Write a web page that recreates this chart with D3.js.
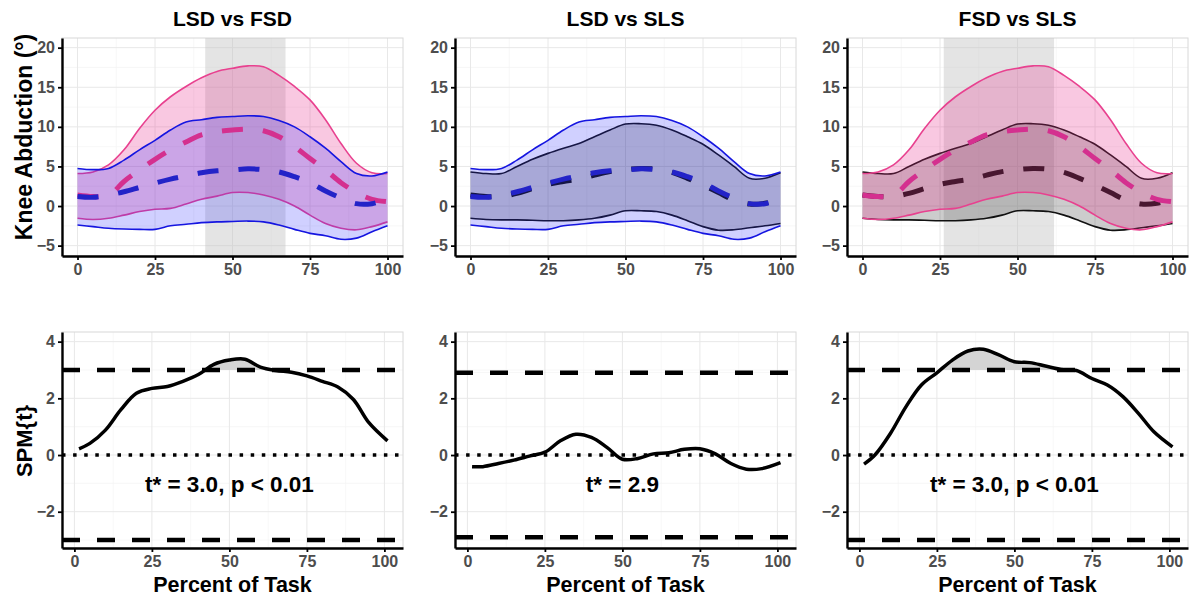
<!DOCTYPE html>
<html>
<head>
<meta charset="utf-8">
<script src="https://cdn.jsdelivr.net/npm/d3@7"></script>
<style>
  body { margin: 0; background: #fff; }
  text { font-family: "Liberation Sans", Arial, sans-serif; font-weight: bold; }
</style>
</head>
<body>
<script>
// ---- data ----
const pct = [0, 5, 10, 15, 20, 25, 30, 35, 40, 45, 50, 55, 60, 65, 70, 75, 80, 85, 90, 95, 100];

const lsdUpper = [4.75, 4.6, 4.75, 5.8, 7.1, 8.3, 9.6, 10.6, 10.9, 11.2, 11.3, 11.4, 11.3, 10.8, 10.0, 8.75, 7.3, 5.6, 4.1, 3.8, 4.3];
const lsdMean  = [1.2, 1.1, 1.4, 1.8, 2.35, 2.9, 3.4, 3.8, 4.2, 4.45, 4.55, 4.7, 4.6, 4.3, 3.7, 2.95, 1.9, 1.0, 0.3, 0.3, 0.85];
const lsdLower = [-2.4, -2.6, -2.8, -2.9, -2.95, -2.95, -2.5, -2.3, -2.1, -2.0, -1.95, -1.9, -2.0, -2.4, -2.95, -3.45, -3.75, -4.2, -4.05, -3.25, -2.5];

const fsdUpper = [4.1, 4.3, 5.2, 7.1, 9.8, 12.1, 13.8, 15.1, 16.2, 17.0, 17.4, 17.7, 17.6, 16.5, 15.1, 13.4, 10.9, 7.9, 5.4, 4.2, 4.1];
const fsdMean  = [1.4, 1.2, 1.3, 3.1, 4.55, 5.9, 7.1, 8.1, 9.0, 9.4, 9.6, 9.7, 9.5, 8.75, 7.5, 6.0, 4.55, 2.95, 1.7, 0.85, 0.55];
const fsdLower = [-1.55, -1.7, -1.55, -1.15, -0.7, -0.4, -0.3, 0.25, 0.85, 1.25, 1.7, 1.7, 1.4, 0.85, 0, -1.15, -2.2, -2.8, -3.0, -2.6, -2.0];

const slsUpper = [4.3, 4.1, 4.1, 5.0, 5.9, 6.65, 7.3, 7.9, 8.75, 9.6, 10.35, 10.4, 10.2, 9.6, 8.75, 7.8, 6.45, 5.0, 3.5, 3.5, 4.2];
const slsMean  = [1.4, 1.2, 1.2, 1.6, 2.2, 2.75, 3.1, 3.4, 3.9, 4.35, 4.6, 4.75, 4.65, 4.25, 3.5, 2.65, 1.7, 0.75, 0.25, 0.35, 0.85];
const slsLower = [-1.55, -1.7, -1.75, -1.75, -1.8, -1.85, -1.85, -1.75, -1.55, -1.15, -0.6, -0.6, -0.7, -1.15, -1.85, -2.6, -3.05, -3.0, -2.75, -2.5, -2.2];

const spmPct = [1.5, 5, 10, 15, 20, 25, 30, 35, 40, 45, 50, 55, 60, 65, 70, 75, 80, 85, 90, 95, 101];
const spmLsdFsd = [0.22, 0.41, 0.88, 1.6, 2.18, 2.35, 2.42, 2.6, 2.84, 3.2, 3.35, 3.38, 3.1, 2.98, 2.92, 2.79, 2.6, 2.4, 1.96, 1.14, 0.5];
const spmLsdSls = [-0.41, -0.41, -0.3, -0.18, -0.04, 0.1, 0.5, 0.73, 0.62, 0.27, -0.15, -0.12, 0.04, 0.08, 0.2, 0.22, 0.04, -0.3, -0.5, -0.48, -0.27];
const spmFsdSls = [-0.32, 0, 0.76, 1.7, 2.47, 2.9, 3.35, 3.67, 3.73, 3.53, 3.29, 3.26, 3.14, 3.02, 2.98, 2.7, 2.47, 2.06, 1.47, 0.82, 0.29];

const titles = ['LSD vs FSD', 'LSD vs SLS', 'FSD vs SLS'];
const thresholds = [3.0, 2.9, 3.0];
const labels = ['t* = 3.0, p < 0.01', 't* = 2.9', 't* = 3.0, p < 0.01'];
const sigRegions = [[41.2, 67.1], null, [26.2, 61.8]];

const xTicks = [0, 25, 50, 75, 100];
const topYTicks = [-5, 0, 5, 10, 15, 20];
const botYTicks = [-2, 0, 2, 4];

// ---- groups and styling ----
const groups = {
  LSD: { upper: lsdUpper, mean: lsdMean, lower: lsdLower, line: '#1515e0', dash: '#2323c8', fill: 'rgba(40,40,255,0.22)' },
  FSD: { upper: fsdUpper, mean: fsdMean, lower: fsdLower, line: '#e8418f', dash: '#d4308f', fill: 'rgba(231,41,138,0.26)' },
  SLS: { upper: slsUpper, mean: slsMean, lower: slsLower, line: '#111', dash: '#111', fill: 'rgba(0,0,0,0.2)' }
};
const panelGroups = [['FSD', 'LSD'], ['SLS', 'LSD'], ['SLS', 'FSD']];
const meansOnTop = [true, false, false];
const spmSeries = [spmLsdFsd, spmLsdSls, spmFsdSls];

const width = 1201, height = 603;
const panelLeft = [62, 455, 847];
const panelW = 341;

const svg = d3.select('body').append('svg')
  .attr('width', width)
  .attr('height', height);

function drawGrid(g, x, y, xMaj, xMin, yMaj, yMin) {
  const [xa, xb] = x.range();
  const [ya, yb] = y.range();
  g.selectAll(null).data(xMin).enter().append('line')
    .attr('x1', d => x(d)).attr('x2', d => x(d)).attr('y1', ya).attr('y2', yb)
    .attr('stroke', '#f4f4f4').attr('stroke-width', 0.7);
  g.selectAll(null).data(yMin).enter().append('line')
    .attr('y1', d => y(d)).attr('y2', d => y(d)).attr('x1', xa).attr('x2', xb)
    .attr('stroke', '#f4f4f4').attr('stroke-width', 0.7);
  g.selectAll(null).data(xMaj).enter().append('line')
    .attr('x1', d => x(d)).attr('x2', d => x(d)).attr('y1', ya).attr('y2', yb)
    .attr('stroke', '#e8e8e8').attr('stroke-width', 1);
  g.selectAll(null).data(yMaj).enter().append('line')
    .attr('y1', d => y(d)).attr('y2', d => y(d)).attr('x1', xa).attr('x2', xb)
    .attr('stroke', '#e8e8e8').attr('stroke-width', 1);
  g.append('rect')
    .attr('x', xa).attr('y', yb).attr('width', xb - xa).attr('height', ya - yb)
    .attr('fill', 'none').attr('stroke', '#d8d8d8').attr('stroke-width', 1);
}

function drawAxes(g, x, y, yTicks) {
  const ax = g.append('g')
    .attr('transform', `translate(0,${y.range()[0]})`)
    .call(d3.axisBottom(x).tickValues(xTicks).tickSize(4).tickSizeOuter(0).tickPadding(4));
  const ay = g.append('g')
    .attr('transform', `translate(${x.range()[0]},0)`)
    .call(d3.axisLeft(y).tickValues(yTicks).tickSize(4).tickSizeOuter(0).tickPadding(3));
  [ax, ay].forEach(a => {
    a.select('.domain').attr('stroke', '#000').attr('stroke-width', 2.4);
    a.selectAll('.tick line').attr('stroke', '#000').attr('stroke-width', 1.8);
    a.selectAll('.tick text')
      .attr('fill', '#4d4d4d')
      .style('font-size', '16px')
      .style('font-family', '"Liberation Sans", Arial, sans-serif')
      .style('font-weight', 'bold');
  });
}

// ---- top row: knee abduction ----
panelLeft.forEach((left, i) => {
  const x = d3.scaleLinear().domain([-5, 105]).range([left, left + panelW]);
  const y = d3.scaleLinear().domain([-6.31, 21.22]).range([256, 38]);
  const g = svg.append('g');

  drawGrid(g, x, y, xTicks, [12.5, 37.5, 62.5, 87.5], topYTicks, [-2.5, 2.5, 7.5, 12.5, 17.5]);

  // significant region
  if (sigRegions[i]) {
    g.append('rect')
      .attr('x', x(sigRegions[i][0]))
      .attr('width', x(sigRegions[i][1]) - x(sigRegions[i][0]))
      .attr('y', y.range()[1])
      .attr('height', y.range()[0] - y.range()[1])
      .attr('fill', '#c4c4c4')
      .attr('opacity', 0.45);
  }

  const meanLine = d3.line().curve(d3.curveCatmullRom).x(d => x(d.p)).y(d => y(d.m));
  const later = [];

  panelGroups[i].forEach(key => {
    const grp = groups[key];
    const rows = pct.map((p, k) => ({ p, hi: grp.upper[k], m: grp.mean[k], lo: grp.lower[k] }));

    g.append('path')
      .datum(rows)
      .attr('fill', grp.fill)
      .attr('d', d3.area().curve(d3.curveCatmullRom)
        .x(d => x(d.p)).y0(d => y(d.lo)).y1(d => y(d.hi)));

    ['hi', 'lo'].forEach(k => {
      g.append('path')
        .datum(rows)
        .attr('fill', 'none')
        .attr('stroke', grp.line)
        .attr('stroke-width', 1.6)
        .attr('d', d3.line().curve(d3.curveCatmullRom).x(d => x(d.p)).y(d => y(d[k])));
    });

    if (meansOnTop[i]) later.push({ rows, grp });
    else {
      g.append('path')
        .datum(rows)
        .attr('fill', 'none')
        .attr('stroke', grp.dash)
        .attr('stroke-width', 5)
        .attr('stroke-dasharray', '21,20')
        .attr('d', meanLine);
    }
  });

  later.forEach(({ rows, grp }) => {
    g.append('path')
      .datum(rows)
      .attr('fill', 'none')
      .attr('stroke', grp.dash)
      .attr('stroke-width', 5)
      .attr('stroke-dasharray', '21,20')
      .attr('d', meanLine);
  });

  drawAxes(g, x, y, topYTicks);

  svg.append('text')
    .attr('x', left + panelW / 2)
    .attr('y', 26)
    .attr('text-anchor', 'middle')
    .style('font-size', '21px')
    .attr('fill', '#000')
    .text(titles[i]);
});

// ---- bottom row: SPM{t} ----
panelLeft.forEach((left, i) => {
  const x = d3.scaleLinear().domain([-4, 106]).range([left, left + panelW]);
  const y = d3.scaleLinear().domain([-3.28, 4.34]).range([548, 332]);
  const g = svg.append('g');
  const thr = thresholds[i];

  drawGrid(g, x, y, xTicks, [12.5, 37.5, 62.5, 87.5], botYTicks, [-3, -1, 1, 3]);

  const rows = spmPct.map((p, k) => ({ p, t: spmSeries[i][k] }));

  // supra-threshold cluster shading
  const clipId = 'clip' + i;
  g.append('clipPath').attr('id', clipId)
    .append('rect')
    .attr('x', x.range()[0]).attr('width', panelW)
    .attr('y', y.range()[1]).attr('height', y(thr) - y.range()[1]);
  g.append('path')
    .datum(rows)
    .attr('clip-path', `url(#${clipId})`)
    .attr('fill', '#d4d4d4')
    .attr('d', d3.area().curve(d3.curveCatmullRom)
      .x(d => x(d.p)).y0(y(thr)).y1(d => y(d.t)));

  // threshold and zero lines
  [thr, -thr].forEach(v => {
    g.append('line')
      .attr('x1', x.range()[0]).attr('x2', x.range()[1])
      .attr('y1', y(v)).attr('y2', y(v))
      .attr('stroke', '#000').attr('stroke-width', 4.5)
      .attr('stroke-dasharray', '18,17');
  });
  g.append('line')
    .attr('x1', x.range()[0]).attr('x2', x.range()[1])
    .attr('y1', y(0)).attr('y2', y(0))
    .attr('stroke', '#000').attr('stroke-width', 3.5)
    .attr('stroke-dasharray', '3.5,7.6');

  g.append('path')
    .datum(rows)
    .attr('fill', 'none')
    .attr('stroke', '#000')
    .attr('stroke-width', 3.5)
    .attr('stroke-linejoin', 'round')
    .attr('d', d3.line().curve(d3.curveCatmullRom).x(d => x(d.p)).y(d => y(d.t)));

  drawAxes(g, x, y, botYTicks);

  g.append('text')
    .attr('x', x(50))
    .attr('y', y(-1.05))
    .attr('dominant-baseline', 'central')
    .attr('text-anchor', 'middle')
    .style('font-size', '22.5px')
    .attr('fill', '#000')
    .text(labels[i]);

  svg.append('text')
    .attr('x', left + panelW / 2)
    .attr('y', 592)
    .attr('text-anchor', 'middle')
    .style('font-size', '21.5px')
    .attr('fill', '#000')
    .text('Percent of Task');
});

// ---- y axis titles ----
svg.append('text')
  .attr('transform', 'translate(24,137) rotate(-90)')
  .attr('text-anchor', 'middle')
  .attr('dominant-baseline', 'central')
  .style('font-size', '23px')
  .attr('fill', '#000')
  .text('Knee Abduction (°)');

svg.append('text')
  .attr('transform', 'translate(24,441) rotate(-90)')
  .attr('text-anchor', 'middle')
  .attr('dominant-baseline', 'central')
  .style('font-size', '22px')
  .attr('fill', '#000')
  .text('SPM{t}');
</script>
</body>
</html>
